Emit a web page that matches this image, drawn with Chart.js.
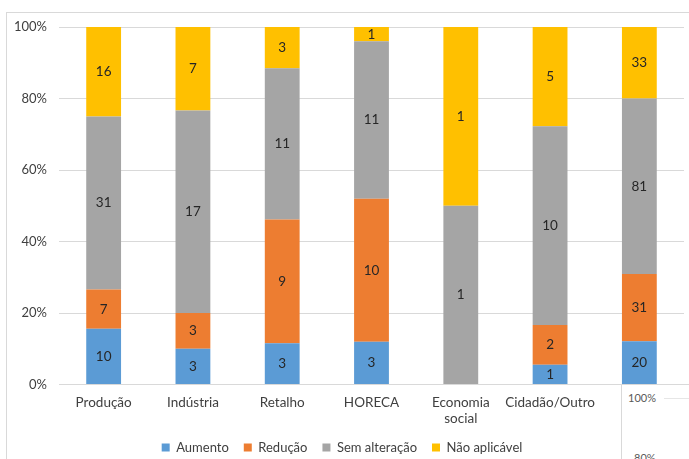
<!DOCTYPE html>
<html><head><meta charset="utf-8">
<script src="https://cdn.jsdelivr.net/npm/chart.js@4/dist/chart.umd.min.js"></script>
<style>
html,body{margin:0;padding:0;background:#fff;overflow:hidden;}
#wrap{position:relative;width:689px;height:459px;overflow:hidden;}
#frame{position:absolute;left:6px;top:12px;width:720px;height:480px;border:1px solid #d9d9d9;box-sizing:border-box;}
#c{position:absolute;left:0;top:0;}
#inset{position:absolute;left:621px;top:384px;width:100px;height:100px;border:1px solid #d9d9d9;background:#fff;font-family:Lato, 'Open Sans', sans-serif;font-size:11px;color:#595959;}
#inset .t1{position:absolute;left:6px;top:6px;}
#inset .g1{position:absolute;left:42px;top:13px;width:60px;height:1px;background:#e6e6e6;}
#inset .t2{position:absolute;left:12px;top:66px;}
</style></head>
<body><div id="wrap"><div id="frame"></div><canvas id="c" width="707" height="459"></canvas>
<div id="inset"><span class="t1">100%</span><div class="g1"></div><span class="t2">80%</span></div></div>
<script>
const categories = ['Produção','Indústria','Retalho','HORECA',['Economia','social'],'Cidadão/Outro',''];
const aumento = [10,3,3,3,0,1,20];
const reducao = [7,3,9,10,0,2,31];
const semAlteracao = [31,17,11,11,1,10,81];
const naoAplicavel = [16,7,3,1,1,5,33];
const yTicks = ['0%','20%','40%','60%','80%','100%'];

const seriesNames = ['Aumento','Redução','Sem alteração','Não aplicável'];
const seriesCounts = [aumento,reducao,semAlteracao,naoAplicavel];
const colors = ['#5B9BD5','#ED7D31','#A5A5A5','#FFC000'];
const totals = categories.map((_,i)=>seriesCounts.reduce((s,a)=>s+a[i],0));

const datasets = seriesNames.map((n,k)=>({
  label:n,
  data: seriesCounts[k].map((v,i)=>v/totals[i]*100),
  counts: seriesCounts[k],
  backgroundColor: colors[k],
  borderWidth:0,
  barPercentage:0.39,
  categoryPercentage:1.0
}));

const FONT = "Lato, 'Open Sans', sans-serif";
const labelPlugin = {
  id:'vals',
  afterDatasetsDraw(chart){
    const ctx = chart.ctx;
    ctx.save();
    ctx.font = '13.5px ' + FONT;
    ctx.fillStyle = '#262626';
    ctx.textAlign='center';
    ctx.textBaseline='middle';
    chart.data.datasets.forEach((ds,di)=>{
      const meta = chart.getDatasetMeta(di);
      meta.data.forEach((el,i)=>{
        const c = ds.counts[i];
        if(!c) return;
        ctx.fillText(String(c), el.x, (el.y+el.base)/2);
      });
    });
    ctx.restore();
  }
};

new Chart(document.getElementById('c'),{
  type:'bar',
  data:{labels:categories,datasets},
  options:{
    responsive:false,animation:false,
    layout:{padding:{left:0,right:23,top:27,bottom:-5}},
    plugins:{
      legend:{position:'bottom',labels:{boxWidth:8,boxHeight:8,font:{size:13,family:FONT},color:'#404040',padding:15}},
      tooltip:{enabled:false}
    },
    scales:{
      x:{stacked:true,grid:{display:false,drawTicks:false},border:{color:'#d9d9d9'},
         afterFit(s){s.height=s.height-11;},
         ticks:{font:{size:13.5,family:FONT},color:'#404040',padding:10,maxRotation:0,autoSkip:false}},
      y:{stacked:true,min:0,max:100,
         afterFit(s){s.width=59;},
         grid:{color:'#d9d9d9',drawTicks:false},border:{display:false},
         ticks:{stepSize:20,font:{size:13,family:FONT},color:'#404040',padding:12,
           callback:(v)=>yTicks[Math.round(v/20)]}}
    }
  },
  plugins:[labelPlugin]
});
</script></body></html>
